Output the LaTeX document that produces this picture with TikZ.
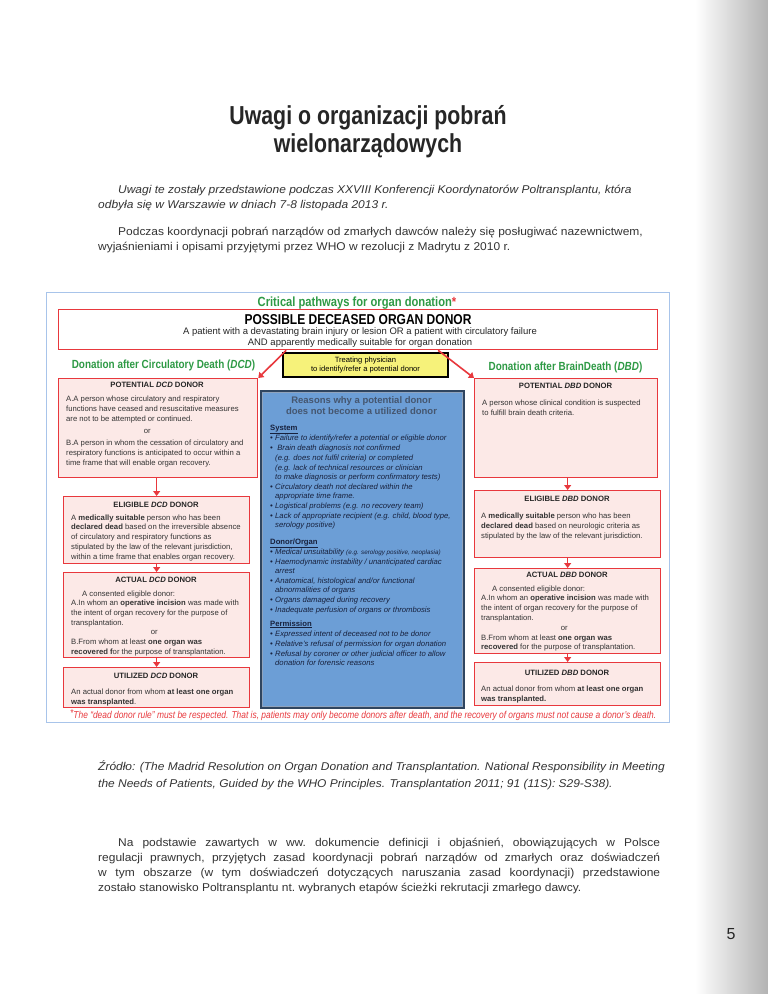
\documentclass[tikz,border=0pt]{standalone}
\usepackage{fontspec}
\setmainfont{Liberation Sans}
\newfontfamily\pagefont[FakeStretch=1.06]{Liberation Sans}
\newfontfamily\narrowfont[FakeStretch=0.84]{Liberation Sans}
\newfontfamily\titlefont[FakeStretch=0.82]{Liberation Sans}
\usetikzlibrary{arrows.meta,positioning,shadows}

\definecolor{donorred}{HTML}{E8383D}
\definecolor{donorpink}{HTML}{FCE9E7}
\definecolor{pathgreen}{HTML}{2E9A45}
\definecolor{physyellow}{HTML}{F6F27A}
\definecolor{reasonblue}{HTML}{6C9ED6}
\definecolor{reasonedge}{HTML}{2F4560}
\definecolor{reasonrim}{HTML}{8FA3BD}
\definecolor{reasonhead}{HTML}{45566F}
\definecolor{reasontext}{HTML}{17213D}
\definecolor{frameblue}{HTML}{A8C4EA}
\definecolor{pagetext}{HTML}{333333}

\newcommand{\rsn}[1]{\makebox[5pt][l]{\textbullet}#1}
\newcommand{\rsnc}[1]{\hspace*{5pt}#1}
\newcommand{\orline}[1]{\makebox[#1]{or}}

\tikzset{
  pagepar/.style={font=\pagefont\frenchspacing\fontsize{11.3}{15}\selectfont, text=pagetext, align=left, inner sep=0pt, anchor=north west},
  redbox/.style={draw=donorred, fill=donorpink, line width=1.3pt, inner sep=0pt, anchor=north west},
  boxhead/.style={font=\bfseries\fontsize{7.7}{9}\selectfont, text=black!85, inner sep=0pt},
  boxtext/.style={font=\fontsize{7.7}{10}\selectfont, text=black!80, align=left, inner sep=0pt, anchor=north west},
  pathhead/.style={font=\narrowfont\bfseries\fontsize{11.8}{13}\selectfont, text=pathgreen, inner sep=0pt},
  redarrow/.style={draw=donorred, line width=1.6pt, -{Triangle[length=5pt,width=7pt]}},
  physbox/.style={draw=black, fill=physyellow, line width=1.3pt, minimum width=165pt, minimum height=24pt, inner sep=0pt,
    align=center, font=\fontsize{7.6}{8.2}\selectfont,
    drop shadow={shadow xshift=1.2pt, shadow yshift=-1.2pt, opacity=0.75, fill=black}},
  reasonbox/.style={draw=reasonedge, fill=reasonblue, line width=2.2pt, inner sep=0pt, anchor=north west},
}

\begin{document}
\begin{tikzpicture}[x=1pt,y=-1pt]
  % page
  \fill[white] (0,0) rectangle (768,994);
  \shade[left color=white, right color=black!30] (695,0) rectangle (768,994);
  \useasboundingbox (0,0) rectangle (768,994);

  \node[font=\titlefont\bfseries\fontsize{26}{28}\selectfont, text=black!85, align=center] (title) at (368,132)
    {Uwagi o organizacji pobrań\\wielonarządowych};

  \node[pagepar, font=\pagefont\itshape\fontsize{11.3}{15}\selectfont] (intro) at (98,184.7)
    {\hspace*{20pt}Uwagi te zostały przedstawione podczas XXVIII Konferencji Koordynatorów Poltransplantu, która\\
     odbyła się w Warszawie w dniach 7-8 listopada 2013 r.};
  \node[pagepar] (naming) at (98,226.7)
    {\hspace*{20pt}Podczas koordynacji pobrań narządów od zmarłych dawców należy się posługiwać nazewnictwem,\\
     wyjaśnieniami i opisami przyjętymi przez WHO w rezolucji z Madrytu z 2010 r.};

  % diagram
  \node[draw=frameblue, line width=0.9pt, minimum width=623pt, minimum height=430pt, inner sep=0pt, anchor=north west]
    (frame) at (46,292) {};
  \node[font=\narrowfont\bfseries\fontsize{13.3}{14}\selectfont, text=pathgreen, inner sep=0pt] (critical) at (357,303)
    {Critical pathways for organ donation\textcolor{donorred}{*}};

  \node[redbox, fill=white, minimum width=599pt, minimum height=40pt] (possible) at (58,309) {};
  \node[font=\narrowfont\bfseries\fontsize{14.3}{15}\selectfont, inner sep=0pt] (possiblehead) at (358,320)
    {POSSIBLE DECEASED ORGAN DONOR};
  \node[font=\fontsize{9.5}{11}\selectfont, align=center, inner sep=0pt, text=black!85] (possibletext) at (360,338)
    {A patient with a devastating brain injury or lesion OR a patient with circulatory failure\\
     AND apparently medically suitable for organ donation};

  \node[pathhead] (dcdhead) at (163.5,365) {Donation after Circulatory Death (\textit{DCD})};
  \node[pathhead] (dbdhead) at (565.5,367) {Donation after BrainDeath (\textit{DBD})};
  \node[physbox] (physician) at (365.5,365) {Treating physician\\to identify/refer a potential donor};

  % DCD column
  \node[redbox, minimum width=199pt, minimum height=99pt] (potdcd) at (58,378) {};
  \node[boxhead] (potdcdhead) at (157,385) {POTENTIAL \textit{DCD}  DONOR};
  \node[boxtext] (potdcdtext) at (66,395.4)
    {A.A person whose circulatory and respiratory\\
     functions have ceased and resuscitative measures\\
     are not to be attempted or continued.\\[2pt]
     \orline{162pt}\\[2pt]
     B.A person in whom the cessation of circulatory and\\
     respiratory functions is anticipated to occur within a\\
     time frame that will enable organ recovery.};

  \node[redbox, minimum width=186pt, minimum height=67pt] (eligdcd) at (63,496) {};
  \node[boxhead] (eligdcdhead) at (156,505) {ELIGIBLE \textit{DCD} DONOR};
  \node[boxtext, font=\fontsize{7.7}{9.8}\selectfont] (eligdcdtext) at (71,514.4)
    {A \textbf{medically suitable} person who has been\\
     \textbf{declared dead} based on the irreversible absence\\
     of circulatory and respiratory functions as\\
     stipulated by the law of the relevant jurisdiction,\\
     within a time frame that enables organ recovery.};

  \node[redbox, minimum width=186pt, minimum height=85pt] (actdcd) at (63,572) {};
  \node[boxhead] (actdcdhead) at (156,580) {ACTUAL \textit{DCD} DONOR};
  \node[boxtext, font=\fontsize{7.7}{9.7}\selectfont] (actdcdtext) at (71,590.4)
    {\hspace*{11pt}A consented eligible donor:\\
     A.In whom an \textbf{operative incision} was made  with\\
     the intent of organ recovery for the purpose of\\
     transplantation.\\
     \orline{166pt}\\
     B.From whom at least \textbf{one organ was}\\
     \textbf{recovered f}or the purpose of transplantation.};

  \node[redbox, minimum width=186pt, minimum height=40pt] (utildcd) at (63,667) {};
  \node[boxhead] (utildcdhead) at (156,676) {UTILIZED \textit{DCD} DONOR};
  \node[boxtext] (utildcdtext) at (71,688.4)
    {An actual donor from whom \textbf{at least one organ}\\
     \textbf{was transplanted}.};

  % DBD column
  \node[redbox, minimum width=183pt, minimum height=99pt] (potdbd) at (474,378) {};
  \node[boxhead] (potdbdhead) at (565.5,386) {POTENTIAL \textit{DBD} DONOR};
  \node[boxtext] (potdbdtext) at (482,399.4)
    {A person whose clinical condition is suspected\\
     to fulfill brain death criteria.};

  \node[redbox, minimum width=186pt, minimum height=67pt] (eligdbd) at (474,490) {};
  \node[boxhead] (eligdbdhead) at (567,499) {ELIGIBLE \textit{DBD} DONOR};
  \node[boxtext] (eligdbdtext) at (481,512.4)
    {A \textbf{medically suitable} person who has been\\
     \textbf{declared dead} based on neurologic criteria as\\
     stipulated by the law of the relevant jurisdiction.};

  \node[redbox, minimum width=186pt, minimum height=85pt] (actdbd) at (474,568) {};
  \node[boxhead] (actdbdhead) at (567,575) {ACTUAL \textit{DBD} DONOR};
  \node[boxtext, font=\fontsize{7.7}{9.8}\selectfont] (actdbdtext) at (481,585.4)
    {\hspace*{11pt}A consented eligible donor:\\
     A.In whom an \textbf{operative incision} was made  with\\
     the intent of organ recovery for the purpose of\\
     transplantation.\\
     \orline{166pt}\\
     B.From whom at least \textbf{one organ was}\\
     \textbf{recovered} for the purpose of transplantation.};

  \node[redbox, minimum width=186pt, minimum height=43pt] (utildbd) at (474,662) {};
  \node[boxhead] (utildbdhead) at (567,673) {UTILIZED \textit{DBD} DONOR};
  \node[boxtext] (utildbdtext) at (481,685.4)
    {An actual donor from whom \textbf{at least one organ}\\
     \textbf{was transplanted.}};

  % reasons
  \node[reasonbox, minimum width=203pt, minimum height=317pt] (reasons) at (260,390) {};
  \draw[reasonrim, line width=1.2pt] ([shift={(2.4pt,-2.4pt)}]reasons.north west) rectangle ([shift={(-2.4pt,2.4pt)}]reasons.south east);
  \node[font=\bfseries\fontsize{9.5}{11}\selectfont, text=reasonhead, align=center, inner sep=0pt] (reasonshead) at (361.5,405.5)
    {Reasons why a potential donor\\does not become a utilized donor};
  \node[font=\itshape\fontsize{7.7}{10}\selectfont, text=reasontext, align=left, inner sep=0pt, anchor=north west]
    (reasonslist) at (270,424.5)
    {\underline{\textup{\textbf{System}}}\\
     \rsn{Failure to identify/refer a potential  or eligible donor}\\
     \rsn{ Brain death diagnosis not confirmed}\\
     \rsnc{(e.g. does not fulfil criteria) or completed}\\
     \rsnc{(e.g. lack of technical resources or clinician}\\[-1pt]
     \rsnc{to make diagnosis or perform confirmatory tests)}\\
     \rsn{Circulatory death not declared within the}\\[-1pt]
     \rsnc{appropriate time frame.}\\
     \rsn{Logistical problems (e.g. no recovery team)}\\
     \rsn{Lack of appropriate recipient (e.g. child, blood type,}\\[-1pt]
     \rsnc{serology positive)}\\[7pt]
     \underline{\textup{\textbf{Donor/Organ}}}\\
     \rsn{Medical unsuitability {\fontsize{6.3}{7}\selectfont(e.g. serology positive, neoplasia)}}\\
     \rsn{Haemodynamic instability / unanticipated cardiac}\\[-1pt]
     \rsnc{arrest}\\
     \rsn{Anatomical, histological and/or functional}\\[-1pt]
     \rsnc{abnormalities of organs}\\
     \rsn{Organs damaged during recovery}\\
     \rsn{Inadequate perfusion of organs or thrombosis}\\[4pt]
     \underline{\textup{\textbf{Permission}}}\\
     \rsn{Expressed intent of deceased not to be donor}\\
     \rsn{Relative’s refusal of permission for organ donation}\\
     \rsn{Refusal by coroner or other judicial officer to allow}\\[-1pt]
     \rsnc{donation for forensic reasons}};

  % arrows
  \draw[redarrow] ([xshift=-72pt]possible.south) -- (potdcd.north east);
  \draw[redarrow] ([xshift=80pt]possible.south) -- (potdbd.north west);
  \draw[redarrow] (potdcd.south -| eligdcd.north) -- (eligdcd.north);
  \draw[redarrow] (eligdcd.south) -- (actdcd.north);
  \draw[redarrow] (actdcd.south) -- (utildcd.north);
  \draw[redarrow] (potdbd.south -| eligdbd.north) -- (eligdbd.north);
  \draw[redarrow] (eligdbd.south) -- (actdbd.north);
  \draw[redarrow] (actdbd.south) -- (utildbd.north);

  \node[font=\narrowfont\itshape\fontsize{10}{11}\selectfont, text=donorred, inner sep=0pt, anchor=west] (deadrule) at (70,715)
    {\raisebox{2pt}{*}The “dead donor rule” must be respected. That is, patients may only become donors after death, and the recovery of organs must not cause a donor’s death.};

  % source and closing paragraph
  \node[pagepar, font=\pagefont\itshape\fontsize{11.3}{17}\selectfont] (source) at (98,760.7)
    {Źródło: (The Madrid Resolution on Organ Donation and Transplantation. National Responsibility in Meeting\\
     the Needs of Patients, Guided by the WHO Principles. Transplantation 2011; 91 (11S): S29-S38).};
  \node[pagepar] (position) at (98,837.7)
    {\makebox[562pt][s]{\hspace*{20pt}Na podstawie zawartych w ww. dokumencie definicji i objaśnień, obowiązujących w Polsce}\\
     \makebox[562pt][s]{regulacji prawnych, przyjętych zasad koordynacji pobrań narządów od zmarłych oraz doświadczeń}\\
     \makebox[562pt][s]{w tym obszarze (w tym doświadczeń dotyczących naruszania zasad koordynacji) przedstawione}\\
     zostało stanowisko Poltransplantu nt. wybranych etapów ścieżki rekrutacji zmarłego dawcy.};

  \node[font=\fontsize{16}{18}\selectfont, text=black!85, inner sep=0pt] (pagenum) at (731,934) {5};
\end{tikzpicture}
\end{document}
